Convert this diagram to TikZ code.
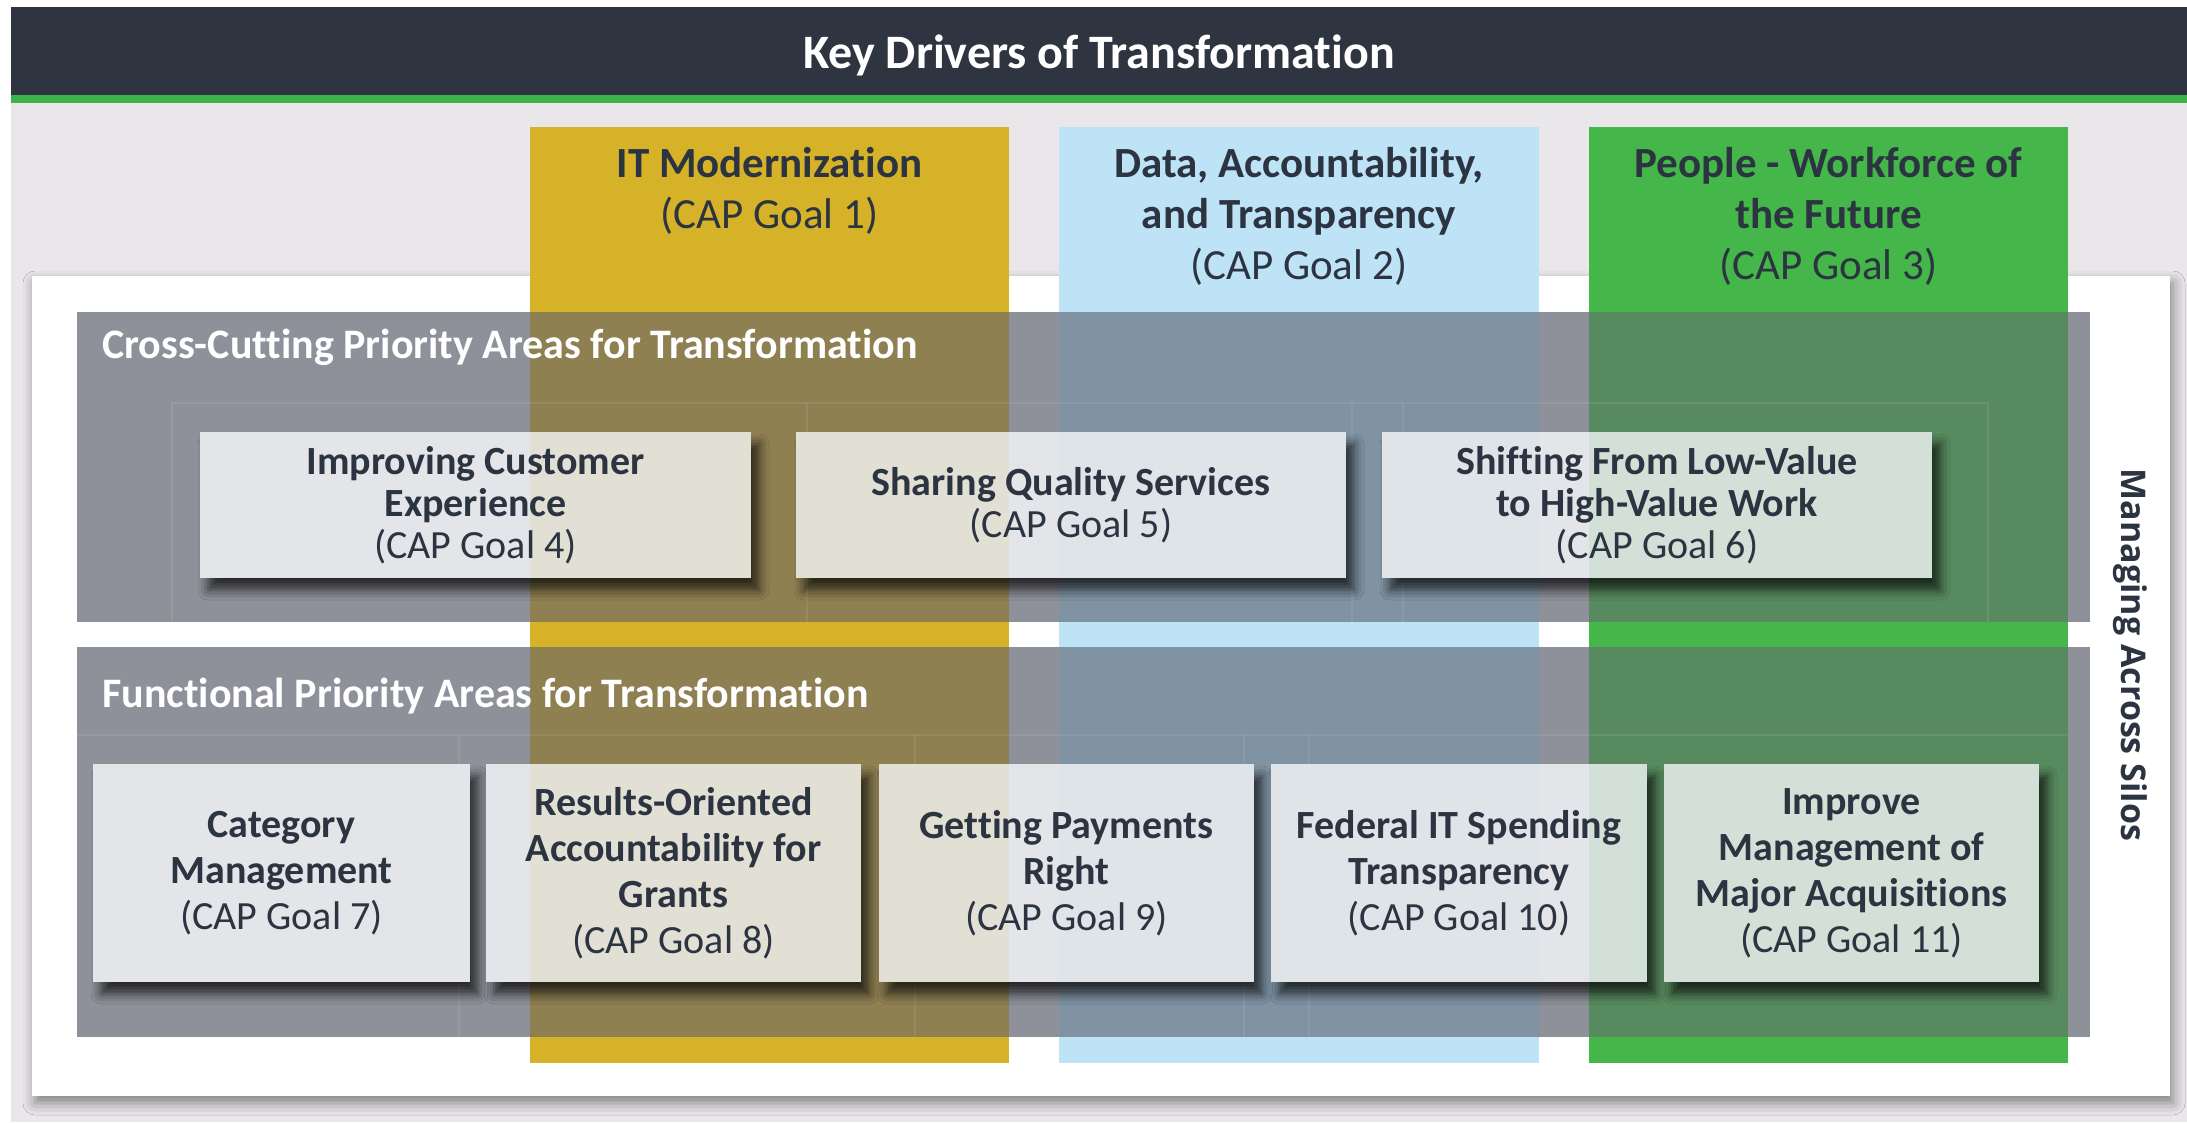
\documentclass[tikz,border=0pt]{standalone}
\usepackage{fontspec}
\setmainfont{Carlito}[Ligatures=NoCommon]
\newfontfamily\osans{Open Sans}
\usetikzlibrary{shadows.blur}
\definecolor{hdr}{HTML}{2E3540}
\definecolor{hdrgreen}{HTML}{3CB34A}
\definecolor{bgl}{HTML}{EAE7EB}
\definecolor{colyel}{HTML}{D6B228}
\definecolor{colblue}{HTML}{BEE2F6}
\definecolor{colgreen}{HTML}{45B649}
\definecolor{bandgrey}{HTML}{8F919A}
\definecolor{bandolive}{HTML}{8F8052}
\definecolor{bandblue}{HTML}{7F93A3}
\definecolor{bandgreen}{HTML}{588A5F}
\definecolor{boxfill}{HTML}{E4E5E8}
\definecolor{txt}{HTML}{2B3440}
\begin{document}
\begin{tikzpicture}[x=1pt,y=-1pt,
  card/.style={fill=boxfill, inner sep=0pt, outer sep=0pt, anchor=north west,
    blur shadow={shadow xshift=8pt, shadow yshift=-12pt, shadow blur radius=10pt, shadow opacity=70}},
  cardtxt/.style={text=txt, align=center, inner sep=0pt},
  rowone/.style={font=\fontsize{40}{42}\selectfont},
  rowtwo/.style={font=\fontsize{40}{46}\selectfont},
  colhead/.style={text=txt, align=center, inner sep=0pt, anchor=north, font=\fontsize{43}{51}\selectfont},
  bandtitle/.style={text=white, anchor=base west, inner sep=0pt, font=\fontsize{42}{46}\selectfont\bfseries},
  faint/.style={draw=white, opacity=0.08, line width=2pt}]
\useasboundingbox (0,0) rectangle (2187,1122);
\fill[white] (0,0) rectangle (2187,1122);
\fill[bgl] (11,103) rectangle (2187,1122);
% header
\fill[hdr] (11,7) rectangle (2187,95);
\fill[hdrgreen] (11,95) rectangle (2187,103);
\node[text=white, anchor=base, inner sep=0pt, font=\fontsize{48}{52}\selectfont\bfseries] (title) at (1099,68) {Key Drivers of Transformation};
% panel
\fill[white, blur shadow={shadow xshift=3pt, shadow yshift=-7pt, shadow blur radius=12pt, shadow opacity=45}] (32,276) rectangle (2170,1096);
% columns
\fill[colyel] (530,127) rectangle (1009,1063);
\fill[colblue] (1059,127) rectangle (1539,1063);
\fill[colgreen] (1589,127) rectangle (2068,1063);
% bands
\foreach \ya/\yb in {312/622, 647/1037} {
  \fill[bandgrey] (77,\ya) rectangle (2090,\yb);
  \fill[bandolive] (530,\ya) rectangle (1009,\yb);
  \fill[bandblue] (1059,\ya) rectangle (1539,\yb);
  \fill[bandgreen] (1589,\ya) rectangle (2068,\yb);
}
% faint cell frames
\draw[faint] (172,622) -- (172,403) -- (1988,403) -- (1988,622);
\draw[faint] (807,403) -- (807,622);
\draw[faint] (1352,403) -- (1352,622);
\draw[faint] (1403,403) -- (1403,622);
\draw[faint] (77,735) -- (2068,735);
\draw[faint] (459,735) -- (459,1037);
\draw[faint] (915,735) -- (915,1037);
\draw[faint] (1244,735) -- (1244,1037);
\draw[faint] (1309,735) -- (1309,1037);
% cards
\node[card, minimum width=551pt, minimum height=146pt] (b4) at (200,432) {};
\node[card, minimum width=550pt, minimum height=146pt] (b5) at (796,432) {};
\node[card, minimum width=550pt, minimum height=146pt] (b6) at (1382,432) {};
\node[card, minimum width=377pt, minimum height=218pt] (b7) at (93,764) {};
\node[card, minimum width=375pt, minimum height=218pt] (b8) at (486,764) {};
\node[card, minimum width=375pt, minimum height=218pt] (b9) at (879,764) {};
\node[card, minimum width=376pt, minimum height=218pt] (b10) at (1271,764) {};
\node[card, minimum width=375pt, minimum height=218pt] (b11) at (1664,764) {};
% tint of columns over cards
\begin{scope}
  \clip (b4.north west) rectangle (b4.south east)
        (b5.north west) rectangle (b5.south east)
        (b6.north west) rectangle (b6.south east)
        (b7.north west) rectangle (b7.south east)
        (b8.north west) rectangle (b8.south east)
        (b9.north west) rectangle (b9.south east)
        (b10.north west) rectangle (b10.south east)
        (b11.north west) rectangle (b11.south east);
  \fill[colyel, opacity=0.1] (530,127) rectangle (1009,1063);
  \fill[colblue, opacity=0.12] (1059,127) rectangle (1539,1063);
  \fill[colgreen, opacity=0.1] (1589,127) rectangle (2068,1063);
\end{scope}
% column headers
\node[colhead] (h1) at (769.5,147) {\textbf{IT Modernization}\\(CAP Goal 1)};
\node[colhead] (h2) at (1299,147) {\textbf{Data, Accountability,}\\\textbf{and Transparency}\\(CAP Goal 2)};
\node[colhead] (h3) at (1828.5,147) {\textbf{People - Workforce of}\\\textbf{the Future}\\(CAP Goal 3)};
% band titles
\node[bandtitle] (bt1) at (102,358) {Cross-Cutting Priority Areas for Transformation};
\node[bandtitle] (bt2) at (102,707) {Functional Priority Areas for Transformation};
% card texts
\node[cardtxt, rowone] (t4) at (b4.center) {\textbf{Improving Customer}\\\textbf{Experience}\\(CAP Goal 4)};
\node[cardtxt, rowone] (t5) at (b5.center) {\textbf{Sharing Quality Services}\\(CAP Goal 5)};
\node[cardtxt, rowone] (t6) at (b6.center) {\textbf{Shifting From Low-Value}\\\textbf{to High-Value Work}\\(CAP Goal 6)};
\node[cardtxt, rowtwo] (t7) at (b7.center) {\textbf{Category}\\\textbf{Management}\\(CAP Goal 7)};
\node[cardtxt, rowtwo] (t8) at (b8.center) {\textbf{Results-Oriented}\\\textbf{Accountability for}\\\textbf{Grants}\\(CAP Goal 8)};
\node[cardtxt, rowtwo] (t9) at (b9.center) {\textbf{Getting Payments}\\\textbf{Right}\\(CAP Goal 9)};
\node[cardtxt, rowtwo] (t10) at (b10.center) {\textbf{Federal IT Spending}\\\textbf{Transparency}\\(CAP Goal 10)};
\node[cardtxt, rowtwo] (t11) at (b11.center) {\textbf{Improve}\\\textbf{Management of}\\\textbf{Major Acquisitions}\\(CAP Goal 11)};
% side label
\node[text=txt, rotate=-90, anchor=base, inner sep=0pt, font=\osans\fontsize{34}{40}\selectfont\bfseries] (side) at (2121,655) {Managing Across Silos};
\end{tikzpicture}
\end{document}
